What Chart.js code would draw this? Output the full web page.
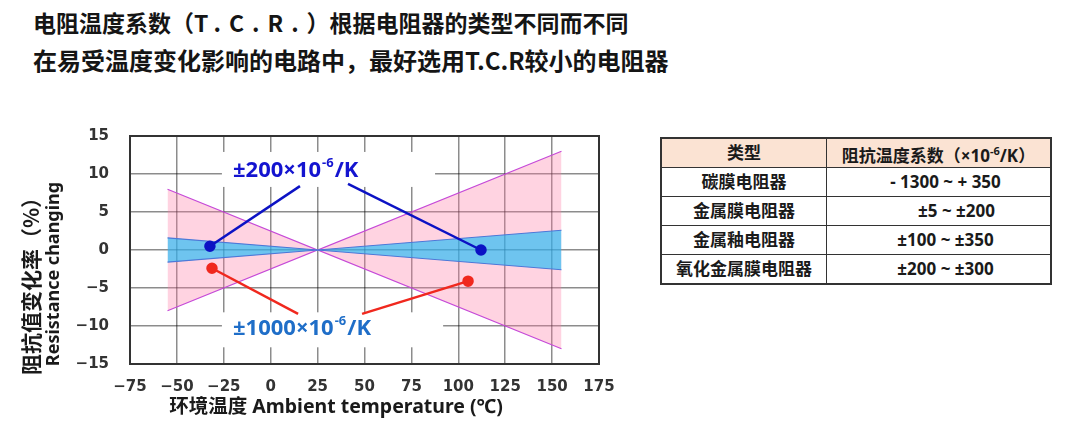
<!DOCTYPE html>
<html>
<head>
<meta charset="utf-8">
<script src="https://cdn.jsdelivr.net/npm/chart.js@4.4.1/dist/chart.umd.min.js"></script>
<style>
body{margin:0;width:1080px;height:425px;background:#fff;position:relative;overflow:hidden;font-family:"Noto Sans","Noto Sans CJK SC",sans-serif;}
.t{position:absolute;left:33px;font-weight:bold;color:#151515;white-space:nowrap;font-family:"Noto Sans CJK SC",sans-serif;line-height:34px;}
.sp{letter-spacing:8px;}
#wrap{position:absolute;left:0;top:122px;width:620px;height:303px;}
table{position:absolute;left:660px;top:137px;width:392px;border-collapse:collapse;border:2px solid #333;font-weight:bold;font-size:17px;color:#1a1a1a;}
td,th{border:1.5px solid #333;text-align:center;padding:0;height:28px;line-height:20px;}
th{background:#fbe3d3;}
td.v{padding-left:14px;}
sup{font-size:11px;}
</style>
</head>
<body>
<div class="t" style="top:5px;font-size:23px">电阻温度系数（<span class="sp">T.C.R.</span>）根据电阻器的类型不同而不同</div>
<div class="t" style="top:43px;font-size:24px">在易受温度变化影响的电路中，最好选用T.C.R较小的电阻器</div>
<div id="wrap"><canvas id="tcrChart"></canvas></div>
<table>
<tr><th style="width:164px">类型</th><th>阻抗温度系数（×10<sup>-6</sup>/K）</th></tr>
<tr><td>碳膜电阻器</td><td class="v">- 1300 ~ + 350</td></tr>
<tr><td>金属膜电阻器</td><td class="v">&nbsp;&nbsp;&nbsp;&nbsp;&nbsp;±5 ~ ±200</td></tr>
<tr><td>金属釉电阻器</td><td class="v">±100 ~ ±350</td></tr>
<tr><td>氧化金属膜电阻器</td><td class="v">±200 ~ ±300</td></tr>
</table>
<script>
// temperature points where the bands are read (°C) and resistance change (%)
const tcrX = [-55, 25, 155];
const wideUp = [8, 0, 13];
const wideDown = [-8, 0, -13];
const narrowUp = [1.6, 0, 2.6];
const narrowDown = [-1.6, 0, -2.6];

// leader lines from the labels to the bands
const lead200A = [{x: -32.4, y: 0.5}, {x: 15.6, y: 8.4}];
const lead200B = [{x: 41.2, y: 8.7}, {x: 112.1, y: 0}];
const lead1000A = [{x: -31.3, y: -2.4}, {x: 14.6, y: -8.4}];
const lead1000B = [{x: 48.7, y: -8.4}, {x: 105.2, y: -4.1}];

const pts = (xs, ys) => xs.map((x, i) => ({x: x, y: ys[i]}));

const bandLabels = [
  {main: '±200×10', sup: '-6', tail: '/K', x: -20.1, y: 10.4, color: '#1414d0', box: [-26, 87.6, 8.3, 12.9]},
  {main: '±1000×10', sup: '-6', tail: '/K', x: -20.1, y: -10.4, color: '#1f6ec8', box: [-26, 91.9, -12.8, -8.2]}
];

const labelPlugin = {
  id: 'bandLabels',
  beforeDatasetsDraw(chart) {
    const c = chart.ctx, xs = chart.scales.x, ys = chart.scales.y;
    c.save();
    c.fillStyle = '#fff';
    bandLabels.forEach(l => {
      const x0 = xs.getPixelForValue(l.box[0]), x1 = xs.getPixelForValue(l.box[1]);
      const y0 = ys.getPixelForValue(l.box[3]), y1 = ys.getPixelForValue(l.box[2]);
      c.fillRect(x0, y0, x1 - x0, y1 - y0);
    });
    c.restore();
  },
  afterDraw(chart) {
    const c = chart.ctx, xs = chart.scales.x, ys = chart.scales.y, a = chart.chartArea;
    c.save();
    // frame
    c.strokeStyle = '#333';
    c.lineWidth = 2;
    c.strokeRect(a.left, a.top, a.right - a.left, a.bottom - a.top);
    // labels
    c.textBaseline = 'middle';
    c.textAlign = 'left';
    bandLabels.forEach(l => {
      let px = xs.getPixelForValue(l.x);
      const py = ys.getPixelForValue(l.y);
      c.fillStyle = l.color;
      c.font = 'bold 22px "Noto Sans"';
      c.fillText(l.main, px, py);
      px += c.measureText(l.main).width + 1;
      c.font = 'bold 13px "Noto Sans"';
      c.fillText(l.sup, px, py - 8);
      px += c.measureText(l.sup).width + 1;
      c.font = 'bold 22px "Noto Sans"';
      c.fillText(l.tail, px, py);
    });
    // axis titles
    c.fillStyle = '#1a1a1a';
    c.textAlign = 'center';
    c.font = 'bold 19.5px "Noto Sans", "Noto Sans CJK SC"';
    c.fillText('环境温度 Ambient temperature (℃)', 336, a.bottom + 43);
    c.translate(0, 159);
    c.rotate(-Math.PI / 2);
    c.font = 'bold 21px "Noto Sans CJK SC"';
    c.fillText('阻抗值变化率（%）', 0, 31);
    c.font = 'bold 18px "Noto Sans"';
    c.fillText('Resistance changing', 7, 54);
    c.restore();
  }
};

const tickFont = {family: '"DejaVu Sans"', size: 15, weight: 'bold'};
const minus = v => String(v).replace('-', '−');

new Chart(document.getElementById('tcrChart'), {
  type: 'scatter',
  data: {
    datasets: [
      {
        data: pts(tcrX, wideUp),
        showLine: true, borderColor: '#c64ad8', borderWidth: 1.2, pointRadius: 0, fill: false, order: 3
      },
      {
        data: pts(tcrX, wideDown),
        showLine: true, borderColor: '#c64ad8', borderWidth: 1.2, pointRadius: 0,
        fill: '-1', backgroundColor: 'rgba(255,120,165,0.33)', order: 3
      },
      {
        data: pts(tcrX, narrowUp),
        showLine: true, borderColor: '#4d78d8', borderWidth: 1.2, pointRadius: 0, fill: false, order: 2
      },
      {
        data: pts(tcrX, narrowDown),
        showLine: true, borderColor: '#4d78d8', borderWidth: 1.2, pointRadius: 0,
        fill: '-1', backgroundColor: 'rgba(13,185,249,0.6)', order: 2
      },
      {data: lead200A, showLine: true, borderColor: '#0c12c4', backgroundColor: '#0c12c4', borderWidth: 2.5, pointRadius: [4.5, 0], order: 1},
      {data: lead200B, showLine: true, borderColor: '#0c12c4', backgroundColor: '#0c12c4', borderWidth: 2.5, pointRadius: [0, 4.5], order: 1},
      {data: lead1000A, showLine: true, borderColor: '#f0281e', backgroundColor: '#f0281e', borderWidth: 2.5, pointRadius: [4.5, 0], order: 1},
      {data: lead1000B, showLine: true, borderColor: '#f0281e', backgroundColor: '#f0281e', borderWidth: 2.5, pointRadius: [0, 4.5], order: 1}
    ]
  },
  options: {
    responsive: true,
    maintainAspectRatio: false,
    animation: false,
    layout: {autoPadding: false, padding: {left: 0, right: 21, top: 14, bottom: 0}},
    plugins: {legend: {display: false}, tooltip: {enabled: false}},
    scales: {
      x: {
        type: 'linear', min: -75, max: 175,
        ticks: {stepSize: 25, padding: 14, color: '#333', font: tickFont, maxRotation: 0, callback: minus},
        grid: {color: 'rgba(0,0,0,0.45)', lineWidth: 1.5, drawTicks: false},
        border: {display: false},
        afterFit(s) { s.height = 61; s.paddingLeft = 0; s.paddingRight = 0; }
      },
      y: {
        min: -15, max: 15,
        ticks: {stepSize: 5, padding: 21, color: '#333', font: tickFont, callback: minus},
        grid: {color: 'rgba(0,0,0,0.45)', lineWidth: 1.5, drawTicks: false},
        border: {display: false},
        afterFit(s) { s.width = 130; s.paddingTop = 0; s.paddingBottom = 0; }
      }
    }
  },
  plugins: [labelPlugin]
});
</script>
</body>
</html>
